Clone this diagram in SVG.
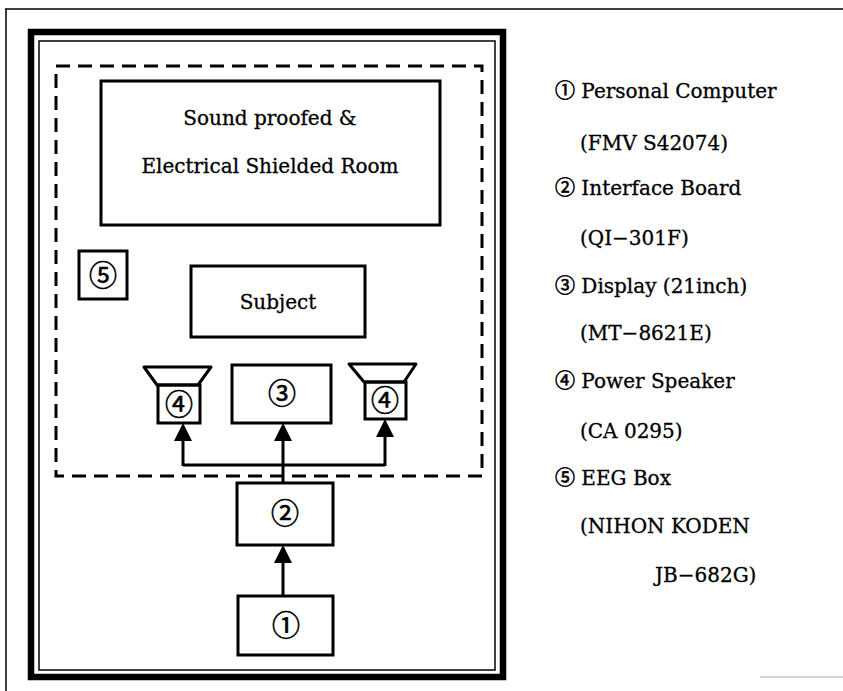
<svg xmlns="http://www.w3.org/2000/svg" width="843" height="691" viewBox="0 0 843 691">
<defs>
<style>
.t{font-family:"DejaVu Serif","Noto Sans CJK JP",serif;fill:#000;stroke:#000;stroke-width:0.3}
.lg{font-size:20px}
.in{font-size:20px;text-anchor:middle}
.c{font-family:"Noto Sans CJK JP","DejaVu Sans",sans-serif;stroke-width:0.6}
.num{font-family:"Noto Sans CJK JP","DejaVu Sans",sans-serif;font-size:28px;text-anchor:middle;fill:#000;stroke:#000;stroke-width:0.6}
.box{fill:none;stroke:#000;stroke-width:3}
.wire{fill:none;stroke:#000;stroke-width:3}
</style>
<marker id="ah" markerWidth="6" markerHeight="6" refX="5" refY="3" orient="auto" markerUnits="strokeWidth">
<path d="M0,0 L6,3 L0,6 Z" fill="#000"/>
</marker>
</defs>
<rect width="843" height="691" fill="#fff"/>
<g id="frame">
<line x1="5" y1="9" x2="843" y2="9" stroke="#000" stroke-width="1.5"/>
<line x1="6" y1="9" x2="6" y2="691" stroke="#000" stroke-width="1.5"/>
<line x1="760" y1="677" x2="843" y2="677" stroke="#aaa" stroke-width="1"/>
<rect x="31" y="32" width="472" height="645" fill="none" stroke="#000" stroke-width="6.5"/>
<rect x="39" y="41" width="456" height="629" fill="none" stroke="#000" stroke-width="1.5"/>
<rect x="56" y="66" width="426" height="410" fill="none" stroke="#000" stroke-width="3" stroke-dasharray="14 8"/>
</g>
<g id="room">
<rect class="box" x="101" y="81" width="339" height="144"/>
<text class="t in" x="270" y="125">Sound proofed &amp;</text>
<text class="t in" x="270" y="173">Electrical Shielded Room</text>
</g>
<g id="eeg">
<rect class="box" x="79" y="251" width="48" height="48"/>
<text class="num" x="103" y="286">⑤</text>
</g>
<g id="subject">
<rect class="box" x="191" y="266" width="174" height="71"/>
<text class="t in" x="278" y="309">Subject</text>
</g>
<g id="speaker-left">
<path d="M144,367 L211,367 L198,385 L157,385 Z" fill="none" stroke="#000" stroke-width="3" stroke-linejoin="round"/>
<rect class="box" x="158" y="385" width="42" height="38"/>
<text class="num" x="179" y="415">④</text>
</g>
<g id="display">
<rect class="box" x="232" y="365" width="99" height="58"/>
<text class="num" x="282" y="404">③</text>
</g>
<g id="speaker-right">
<path d="M349,364 L416,364 L404,382 L364,382 Z" fill="none" stroke="#000" stroke-width="3" stroke-linejoin="round"/>
<rect class="box" x="365" y="382" width="41" height="37"/>
<text class="num" x="385" y="411">④</text>
</g>
<g id="interface">
<rect class="box" x="237" y="483" width="96" height="62"/>
<text class="num" x="285" y="524">②</text>
</g>
<g id="pc">
<rect class="box" x="238" y="596" width="95" height="59"/>
<text class="num" x="286" y="636">①</text>
</g>
<g id="connectors">
<line class="wire" x1="283" y1="596" x2="283" y2="548" marker-end="url(#ah)"/>
<line class="wire" x1="283" y1="483" x2="283" y2="426" marker-end="url(#ah)"/>
<polyline class="wire" points="183,465 385,465"/>
<line class="wire" x1="183" y1="466" x2="183" y2="426" marker-end="url(#ah)"/>
<line class="wire" x1="385" y1="466" x2="385" y2="422" marker-end="url(#ah)"/>
</g>
<g id="legend">
<text class="t lg" x="555" y="98"><tspan class="c">①</tspan> Personal Computer</text>
<text class="t lg" x="580" y="150">(FMV S42074)</text>
<text class="t lg" x="555" y="195"><tspan class="c">②</tspan> Interface Board</text>
<text class="t lg" x="580" y="245">(QI−301F)</text>
<text class="t lg" x="555" y="293"><tspan class="c">③</tspan> Display (21inch)</text>
<text class="t lg" x="580" y="340">(MT−8621E)</text>
<text class="t lg" x="555" y="388"><tspan class="c">④</tspan> Power Speaker</text>
<text class="t lg" x="580" y="438">(CA 0295)</text>
<text class="t lg" x="555" y="485"><tspan class="c">⑤</tspan> EEG Box</text>
<text class="t lg" x="580" y="533">(NIHON KODEN</text>
<text class="t lg" x="655" y="582">JB−682G)</text>
</g>
</svg>
